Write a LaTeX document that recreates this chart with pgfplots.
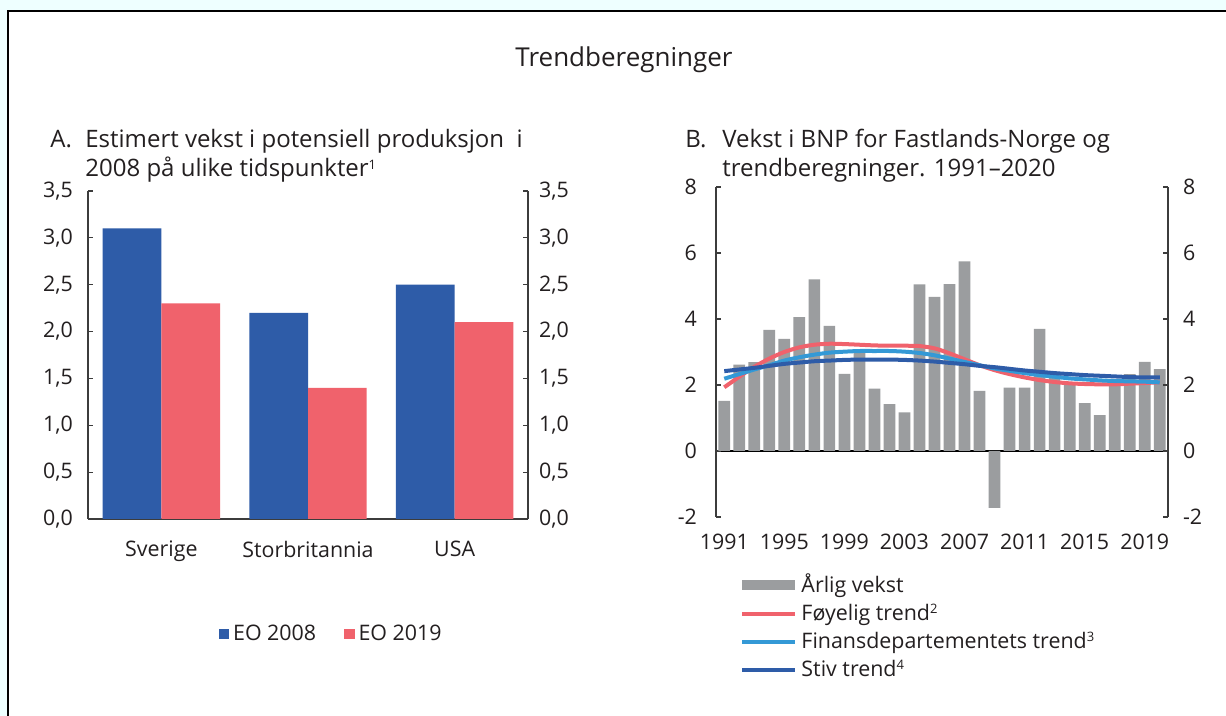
\documentclass[border=0pt]{standalone}
\usepackage{fontspec}
\setmainfont{Open Sans}
\usepackage{pgfplots}
\pgfplotsset{compat=1.18}
\pgfplotsset{/pgf/number format/assume math mode=true}
\definecolor{barblue}{RGB}{46,92,168}
\definecolor{barred}{RGB}{240,98,108}
\definecolor{lblue}{RGB}{52,153,214}
\definecolor{bargrey}{RGB}{155,157,159}
\definecolor{txt}{RGB}{35,31,32}
\definecolor{axgrey}{RGB}{60,60,60}
\definecolor{bgcyan}{RGB}{238,255,255}
\newcommand\sups[1]{\raisebox{0.62ex}{\fontsize{6.5}{7}\selectfont #1}}
\pgfplotsset{
  commonax/.style={
    scale only axis, enlargelimits=false,
    tick align=inside, major tick length=2.5pt,
    axis line style={draw=axgrey, line width=0.6pt},
    y tick style={axgrey, line width=0.6pt},
    ticklabel style={font=\fontsize{10.7}{12}\selectfont, text=txt},
  },
  numA/.style={/pgf/number format/fixed, /pgf/number format/fixed zerofill,
    /pgf/number format/precision=1, /pgf/number format/use comma},
}
\begin{document}
\begin{tikzpicture}
\begin{scope}[x=0.5pt,y=0.5pt]
\useasboundingbox (0,0) rectangle (1226,716);
\fill[bgcyan] (0,0) rectangle (1226,716);
\fill[white] (8,0) rectangle (1226,705);
\draw[black, line width=1pt] (8,-5) -- (8,705) -- (1231,705);
\node[font=\fontsize{13}{15}\selectfont, text=txt] at (624,656) {Trendberegninger};
\begin{scope}[every node/.style={anchor=base west, font=\fontsize{12}{14}\selectfont, text=txt, inner sep=0pt}]
\node at (50,568) {A.};
\node at (85,568) {Estimert vekst i potensiell produksjon\ \ i};
\node at (85,539) {2008 på ulike tidspunkter\sups{1}};
\node at (685,568) {B.};
\node at (722,568) {Vekst i BNP for Fastlands-Norge og};
\node at (722,539) {trendberegninger. 1991–2020};
\end{scope}
\end{scope}

% ---------------- Panel A ----------------
\begin{axis}[commonax,
  at={(44pt,98.5pt)}, anchor=south west,
  width=220pt, height=164pt,
  xmin=-0.5, xmax=2.5, ymin=0, ymax=3.5,
  axis x line*=bottom, axis y line*=left,
  xtick={0,1,2}, xticklabels={Sverige,Storbritannia,USA},
  x tick style={draw=none},
  xticklabel style={yshift=-5pt},
  ytick={0,0.5,...,3.5},
  yticklabel style={numA, xshift=-4pt},
  ybar, bar width=0.4,
  legend columns=2,
  legend style={at={(0.555,-0.35)}, anchor=center, draw=none, fill=none,
    font=\fontsize{10.7}{12}\selectfont, text=txt,
    /tikz/every even column/.append style={column sep=12pt}},
]
\addplot[fill=barblue, draw=none, bar shift=-0.2,
  legend image code/.code={\fill[barblue] (0pt,-2.6pt) rectangle (5.2pt,2.6pt);}]
  coordinates {(0,3.1) (1,2.2) (2,2.5)};
\addplot[fill=barred, draw=none, bar shift=0.2,
  legend image code/.code={\fill[barred] (0pt,-2.6pt) rectangle (5.2pt,2.6pt);}]
  coordinates {(0,2.3) (1,1.4) (2,2.1)};
\legend{EO 2008, EO 2019}
\end{axis}
\begin{axis}[commonax,
  at={(44pt,98.5pt)}, anchor=south west,
  width=220pt, height=164pt,
  xmin=-0.5, xmax=2.5, ymin=0, ymax=3.5,
  axis x line=none, axis y line*=right,
  ytick={0,0.5,...,3.5},
  yticklabel style={numA, xshift=2pt},
]
\end{axis}

% ---------------- Panel B ----------------
\begin{axis}[commonax,
  at={(358pt,99.5pt)}, anchor=south west,
  width=226pt, height=165pt,
  xmin=1990.45, xmax=2020.55, ymin=-2, ymax=8,
  axis x line*=bottom, axis y line*=left,
  x axis line style={draw=none},
  xtick={1991,1995,...,2019}, x tick style={draw=none},
  xticklabel style={/pgf/number format/1000 sep={}, yshift=-5pt},
  ytick={-2,0,...,8},
  yticklabel style={xshift=-6pt},
  extra y ticks={0}, extra y tick labels={},
  extra y tick style={grid=major},
  major grid style={black, line width=0.7pt},
  legend cell align=left,
  legend style={at={(0.04,-0.147)}, anchor=north west, draw=none, fill=none,
    font=\fontsize{10.7}{12}\selectfont, text=txt, row sep=0.2pt},
]
\addplot[ybar, bar width=0.78, bar shift=0, fill=bargrey, draw=none,
  legend image code/.code={\fill[bargrey] (0pt,-2.5pt) rectangle (26.5pt,2.5pt);}]
  coordinates {
  (1991,1.52) (1992,2.62) (1993,2.69) (1994,3.67) (1995,3.40)
  (1996,4.06) (1997,5.20) (1998,3.79) (1999,2.34) (2000,3.00)
  (2001,1.89) (2002,1.42) (2003,1.17) (2004,5.05) (2005,4.67)
  (2006,5.06) (2007,5.75) (2008,1.82) (2009,-1.72) (2010,1.92)
  (2011,1.92) (2012,3.70) (2013,2.40) (2014,2.05) (2015,1.45)
  (2016,1.09) (2017,2.02) (2018,2.33) (2019,2.70) (2020,2.48)};
\addplot[smooth, barred, line width=2pt,
  legend image code/.code={\draw[barred, line width=2pt] (0pt,0pt) -- (26.5pt,0pt);}]
  coordinates {
  (1991,1.93) (1992,2.25) (1993,2.55) (1994,2.80) (1995,3.00)
  (1996,3.14) (1997,3.22) (1998,3.25) (1999,3.24) (2000,3.22)
  (2001,3.20) (2002,3.19) (2003,3.19) (2004,3.18) (2005,3.11)
  (2006,2.96) (2007,2.78) (2008,2.60) (2009,2.45) (2010,2.33)
  (2011,2.23) (2012,2.15) (2013,2.09) (2014,2.05) (2015,2.03)
  (2016,2.02) (2017,2.02) (2018,2.04) (2019,2.06) (2020,2.08)};
\addplot[smooth, lblue, line width=2pt,
  legend image code/.code={\draw[lblue, line width=2pt] (0pt,0pt) -- (26.5pt,0pt);}]
  coordinates {
  (1991,2.19) (1992,2.33) (1993,2.47) (1994,2.60) (1995,2.74)
  (1996,2.84) (1997,2.92) (1998,2.98) (1999,3.01) (2000,3.03)
  (2001,3.03) (2002,3.03) (2003,3.01) (2004,2.97) (2005,2.90)
  (2006,2.80) (2007,2.70) (2008,2.60) (2009,2.50) (2010,2.43)
  (2011,2.36) (2012,2.30) (2013,2.25) (2014,2.20) (2015,2.17)
  (2016,2.14) (2017,2.12) (2018,2.11) (2019,2.10) (2020,2.08)};
\addplot[smooth, barblue, line width=2pt,
  legend image code/.code={\draw[barblue, line width=2pt] (0pt,0pt) -- (26.5pt,0pt);}]
  coordinates {
  (1991,2.42) (1992,2.47) (1993,2.52) (1994,2.58) (1995,2.64)
  (1996,2.68) (1997,2.72) (1998,2.74) (1999,2.76) (2000,2.77)
  (2001,2.77) (2002,2.77) (2003,2.76) (2004,2.74) (2005,2.71)
  (2006,2.67) (2007,2.63) (2008,2.58) (2009,2.54) (2010,2.49)
  (2011,2.44) (2012,2.40) (2013,2.36) (2014,2.33) (2015,2.30)
  (2016,2.28) (2017,2.26) (2018,2.24) (2019,2.23) (2020,2.23)};
\legend{Årlig vekst, Føyelig trend\sups{2}, Finansdepartementets trend\sups{3}, Stiv trend\sups{4}}
\end{axis}
\begin{axis}[commonax,
  at={(358pt,99.5pt)}, anchor=south west,
  width=226pt, height=165pt,
  xmin=1990.45, xmax=2020.55, ymin=-2, ymax=8,
  axis x line=none, axis y line*=right,
  ytick={-2,0,...,8},
  yticklabel style={xshift=4pt},
]
\end{axis}
\end{tikzpicture}
\end{document}
